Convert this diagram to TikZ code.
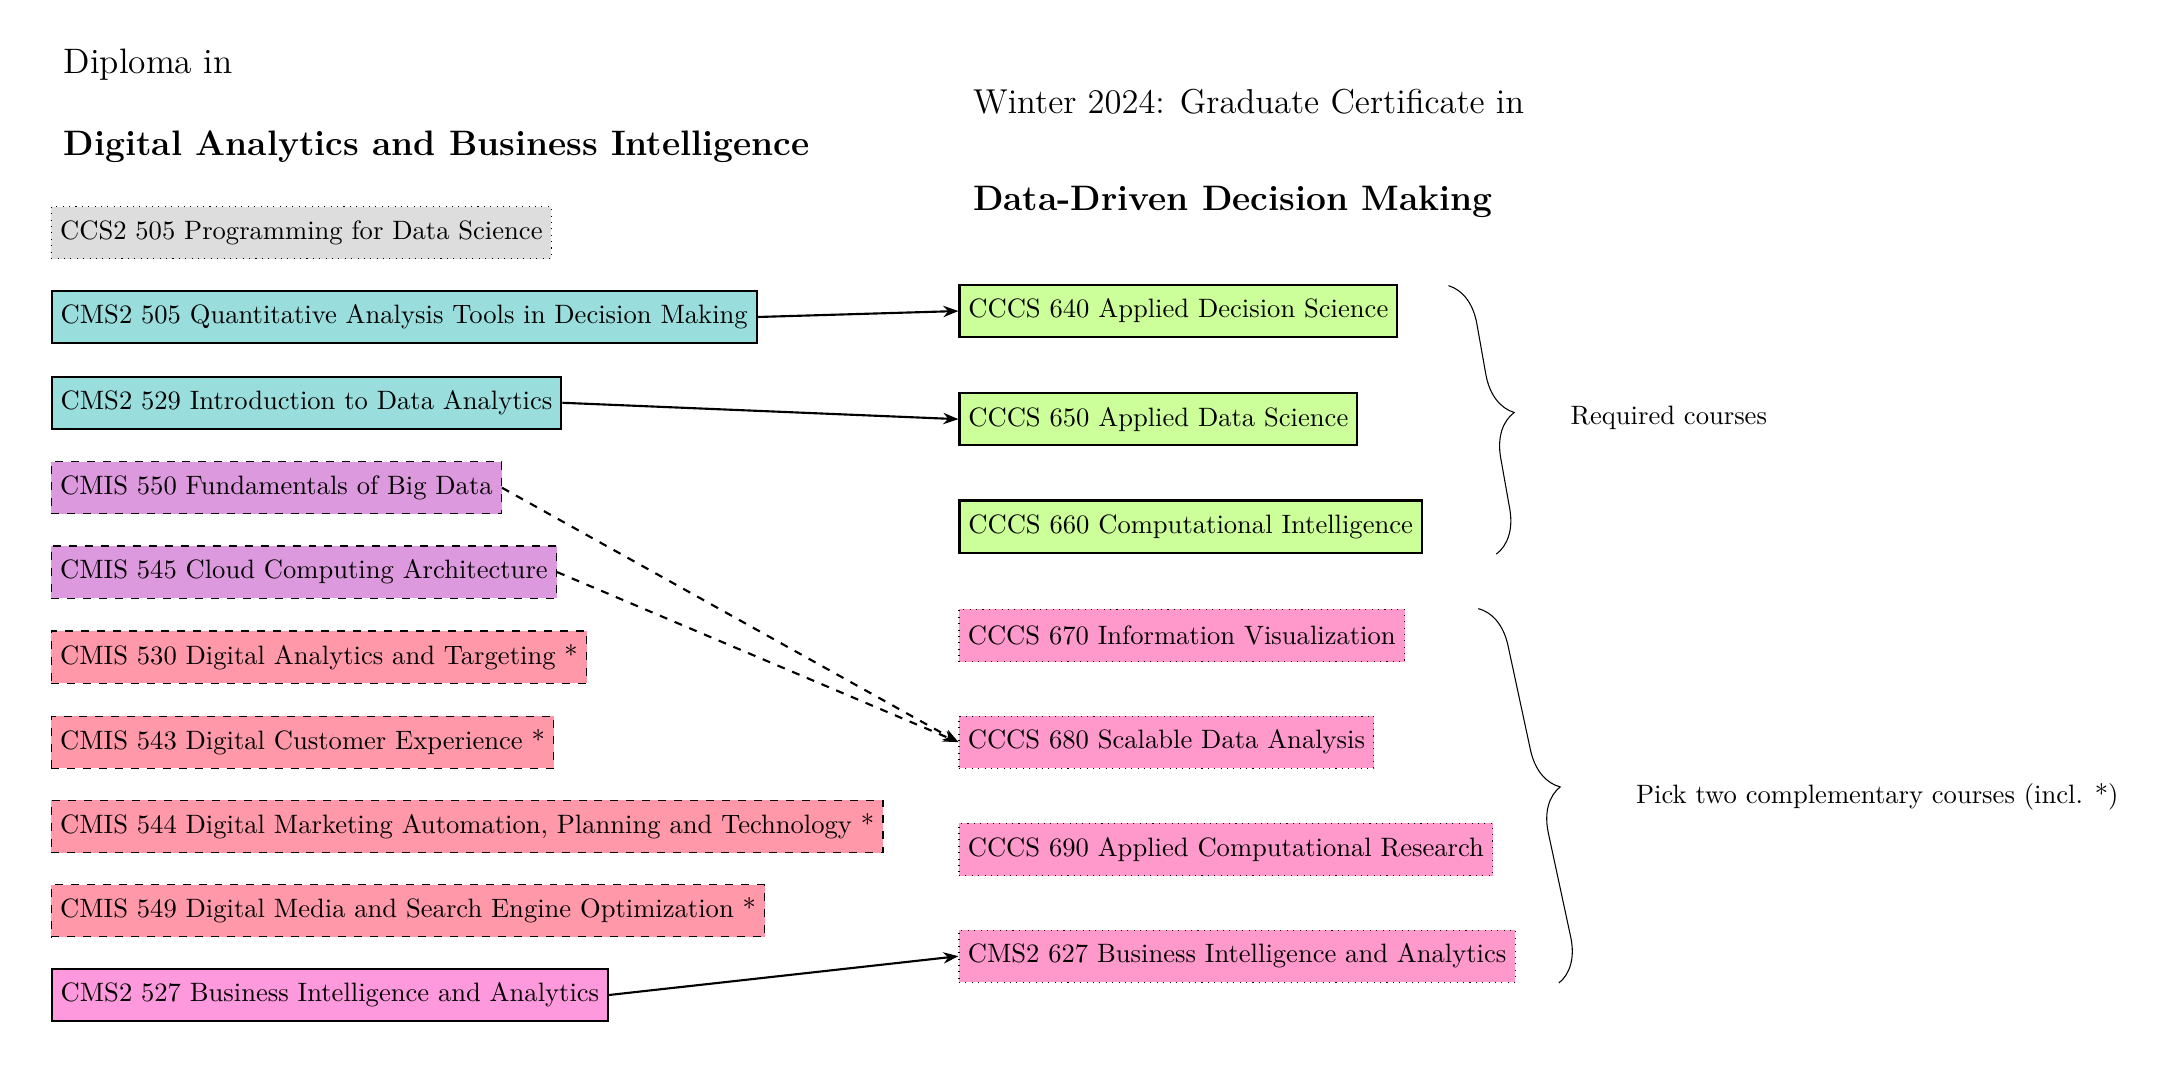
\documentclass[tikz,border=0pt]{standalone}
\usepackage{xcolor}
\usepackage{tikz}
\usetikzlibrary{positioning,calc,arrows.meta,decorations.pathreplacing}

\definecolor{basegray}{RGB}{221,221,221}
\definecolor{quantcyan}{RGB}{153,221,221}
\definecolor{datapurple}{RGB}{221,153,221}
\definecolor{digisalmon}{RGB}{255,153,170}
\definecolor{bipink}{RGB}{255,153,221}
\definecolor{coregreen}{RGB}{204,255,153}
\definecolor{electpink}{RGB}{255,153,204}

\begin{document}
\begin{tikzpicture}[
    x=0.986cm, y=0.986cm,
    course/.style={draw, anchor=west, minimum height=0.69cm},
    core/.style={course, thick},
    option/.style={course, dashed},
    extra/.style={course, dotted},
    link/.style={thick, -{Stealth[length=2mm]}},
    heading/.style={anchor=west, font=\fontsize{13.3}{16}\selectfont}
]
    \useasboundingbox (0,0) rectangle (29,-14.4);

    \node[heading] (dipl) at (0.73,-0.87) {Diploma in};
    \node[heading, font=\fontsize{13.3}{16}\selectfont\bfseries] (diplname) at (0.73,-1.96) {Digital Analytics and Business Intelligence};
    \node[heading, font=\fontsize{13}{16}\selectfont] (cert) at (12.92,-1.37) {Winter 2024: Graduate Certificate in};
    \node[heading, font=\fontsize{13.3}{16}\selectfont\bfseries] (certname) at (12.92,-2.70) {Data-Driven Decision Making};

    \node[extra, fill=basegray] (ccs505) at (0.68,-3.12) {CCS2 505 Programming for Data Science};
    \node[core, fill=quantcyan] (cms505) at (0.68,-4.25) {CMS2 505 Quantitative Analysis Tools in Decision Making};
    \node[core, fill=quantcyan] (cms529) at (0.68,-5.40) {CMS2 529 Introduction to Data Analytics};
    \node[option, fill=datapurple] (cmis550) at (0.68,-6.54) {CMIS 550 Fundamentals of Big Data};
    \node[option, fill=datapurple] (cmis545) at (0.68,-7.67) {CMIS 545 Cloud Computing Architecture};
    \node[option, fill=digisalmon] (cmis530) at (0.68,-8.81) {CMIS 530 Digital Analytics and Targeting *};
    \node[option, fill=digisalmon] (cmis543) at (0.68,-9.95) {CMIS 543 Digital Customer Experience *};
    \node[option, fill=digisalmon] (cmis544) at (0.68,-11.08) {CMIS 544 Digital Marketing Automation, Planning and Technology *};
    \node[option, fill=digisalmon] (cmis549) at (0.68,-12.21) {CMIS 549 Digital Media and Search Engine Optimization *};
    \node[core, fill=bipink] (cms527) at (0.68,-13.34) {CMS2 527 Business Intelligence and Analytics};

    \node[core, fill=coregreen] (cccs640) at (12.85,-4.17) {CCCS 640 Applied Decision Science};
    \node[core, fill=coregreen] (cccs650) at (12.85,-5.62) {CCCS 650 Applied Data Science};
    \node[core, fill=coregreen] (cccs660) at (12.85,-7.06) {CCCS 660 Computational Intelligence};
    \node[extra, fill=electpink] (cccs670) at (12.85,-8.52) {CCCS 670 Information Visualization};
    \node[extra, fill=electpink] (cccs680) at (12.85,-9.95) {CCCS 680 Scalable Data Analysis};
    \node[extra, fill=electpink] (cccs690) at (12.85,-11.39) {CCCS 690 Applied Computational Research};
    \node[extra, fill=electpink] (cms627) at (12.85,-12.82) {CMS2 627 Business Intelligence and Analytics};

    \draw[link] (cms505.east) -- (cccs640.west);
    \draw[link] (cms529.east) -- (cccs650.west);
    \draw[link, dashed] (cmis550.east) -- (cccs680.west);
    \draw[link, dashed] (cmis545.east) -- (cccs680.west);
    \draw[link] (cms527.east) -- (cms627.west);

    \coordinate (reqtop) at (19.42,-3.83);
    \coordinate (reqbot) at (20.06,-7.43);
    \coordinate (picktop) at (19.82,-8.16);
    \coordinate (pickbot) at (20.90,-13.18);
    \draw[decorate, decoration={brace, amplitude=16pt}] (reqtop) -- (reqbot);
    \draw[decorate, decoration={brace, amplitude=16pt}] (picktop) -- (pickbot);
    \node[anchor=west] (req) at (20.93,-5.60) {Required courses};
    \node[anchor=west] (pick) at (21.81,-10.69) {Pick two complementary courses (incl. *)};
\end{tikzpicture}
\end{document}
